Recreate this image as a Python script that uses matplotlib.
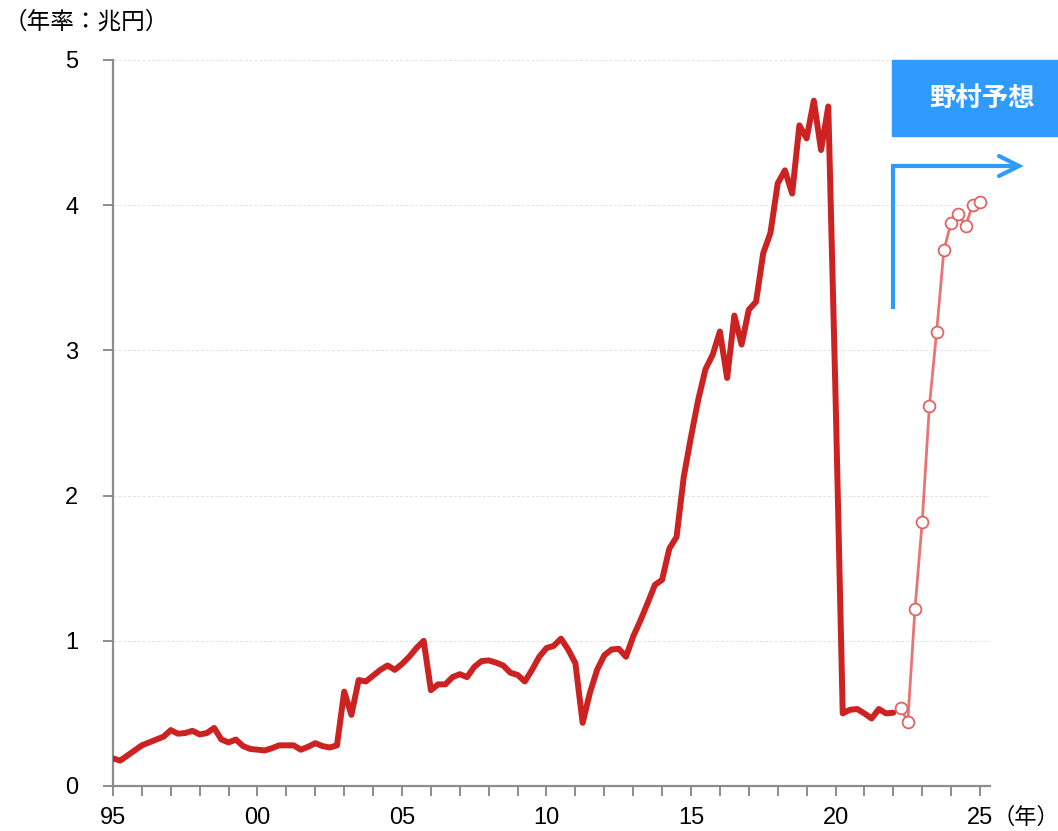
import numpy as np
import matplotlib.pyplot as plt
from matplotlib.lines import Line2D
from matplotlib.patches import Rectangle
from matplotlib.ticker import FixedLocator, MultipleLocator

plt.rcParams['font.family'] = ['Liberation Sans', 'Noto Sans CJK JP']

# quarterly, annualised (trillion yen), 1995Q1 - 2022Q1
actual = [
    0.19, 0.175, 0.21, 0.245, 0.28, 0.30, 0.32, 0.34,
    0.385, 0.36, 0.365, 0.38, 0.355, 0.365, 0.40, 0.32,
    0.30, 0.32, 0.275, 0.255, 0.25, 0.245, 0.26, 0.28,
    0.28, 0.28, 0.25, 0.27, 0.295, 0.275, 0.265, 0.28,
    0.65, 0.49, 0.73, 0.72, 0.76, 0.80, 0.83, 0.80,
    0.84, 0.89, 0.95, 1.00, 0.66, 0.70, 0.70, 0.75,
    0.77, 0.75, 0.82, 0.86, 0.865, 0.85, 0.83, 0.78,
    0.765, 0.72, 0.80, 0.89, 0.95, 0.965, 1.015, 0.94,
    0.845, 0.435, 0.64, 0.80, 0.90, 0.94, 0.945, 0.89,
    1.03, 1.14, 1.26, 1.385, 1.42, 1.635, 1.715, 2.13,
    2.405, 2.66, 2.87, 2.97, 3.13, 2.81, 3.24, 3.04,
    3.28, 3.335, 3.67, 3.81, 4.15, 4.24, 4.08, 4.55,
    4.46, 4.72, 4.38, 4.68, 2.70, 0.50, 0.525, 0.53,
    0.50, 0.465, 0.53, 0.50, 0.505,
]
# forecast, 2022Q2 - 2025Q1
forecast = [0.54, 0.44, 1.22, 1.82, 2.62, 3.13, 3.69, 3.88, 3.94, 3.86, 4.00, 4.02]

x_actual = 1995 + np.arange(len(actual)) / 4
x_fore = 1995 + (len(actual) + np.arange(len(forecast))) / 4

tick_years = [1995, 2000, 2005, 2010, 2015, 2020, 2025]
tick_labels = ['95', '00', '05', '10', '15', '20', '25']

fig = plt.figure(figsize=(10.58, 8.31), dpi=100)
ax = fig.add_axes([113 / 1058, 1 - 786 / 831, (990 - 113) / 1058, (786 - 60) / 831])

ax.plot(x_actual, actual, color='#CC2222', lw=4.3, solid_joinstyle='round',
        solid_capstyle='round', zorder=3)
ax.plot(x_fore, forecast, color='#E87474', lw=2.0, marker='o', ms=8.5,
        mfc='white', mec='#E06464', mew=1.3, zorder=4)

ax.set_xlim(1995, 1995 + (990 - 113) / 28.9)
ax.set_ylim(0, 5)
ax.set_yticks([0, 1, 2, 3, 4, 5])
ax.xaxis.set_major_locator(FixedLocator(tick_years))
ax.set_xticklabels(tick_labels)
ax.xaxis.set_minor_locator(MultipleLocator(1))

for s in ['top', 'right']:
    ax.spines[s].set_visible(False)
for s in ['left', 'bottom']:
    ax.spines[s].set_color('#8C8C8C')
    ax.spines[s].set_linewidth(1.6)

ax.tick_params(axis='both', which='both', direction='out', length=7, width=1.4,
               color='#8C8C8C', labelsize=17, labelcolor='black')
ax.tick_params(axis='x', pad=8)
ax.tick_params(axis='y', pad=18)
ax.yaxis.grid(True, color='#E2E2E2', lw=0.7, ls=(0, (3, 2)))
ax.set_axisbelow(True)

fig.text(4 / 1058, 1 - 22 / 831, '（年率：兆円）', fontsize=17, va='center', ha='left')
fig.text(993 / 1058, 1 - 818 / 831, '（年）', fontsize=16, va='center', ha='left')

# forecast label box and arrow
blue = '#2F9BFF'
fig.patches.append(Rectangle((892 / 1058, 1 - 136 / 831), (1058 - 892) / 1058, 76 / 831,
                             transform=fig.transFigure, color=blue, zorder=5))
fig.text(982 / 1058, 1 - 99 / 831, '野村予想', fontsize=19, fontweight='bold',
         color='white', ha='center', va='center', zorder=6)

def px(x, y):
    return x / 1058, 1 - y / 831

pts = [px(893, 307), px(893, 166), px(1017, 166)]
fig.lines.append(Line2D([p[0] for p in pts], [p[1] for p in pts], transform=fig.transFigure,
                        color=blue, lw=3, solid_joinstyle='miter'))
head = [px(999, 156), px(1019, 166), px(999, 176)]
fig.lines.append(Line2D([p[0] for p in head], [p[1] for p in head], transform=fig.transFigure,
                        color=blue, lw=3, solid_joinstyle='miter', solid_capstyle='round'))

fig.savefig('out.png', dpi=100)
